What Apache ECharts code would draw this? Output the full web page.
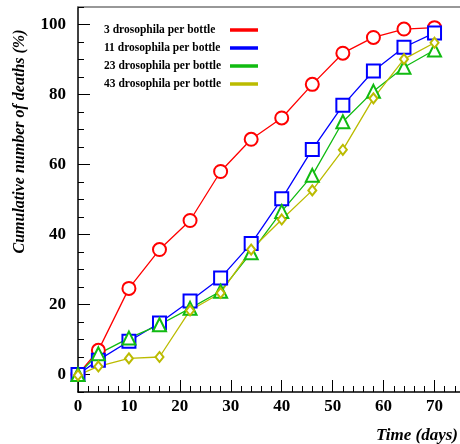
<!DOCTYPE html>
<html>
<head>
<meta charset="utf-8">
<script src="https://cdn.jsdelivr.net/npm/echarts@6/dist/echarts.min.js"></script>
<style>
  html, body { margin: 0; padding: 0; background: #fff; }
  #chart { width: 460px; height: 444px; }
</style>
</head>
<body>
<div id="chart"></div>
<script>
// 时间（天）
const days = [0, 4, 10, 16, 22, 28, 34, 40, 46, 52, 58, 64, 70]
// 每瓶果蝇数对应的累计死亡率（%）
const d3 = [0, 6.9, 24.6, 35.7, 44, 58, 67.2, 73.3, 82.9, 91.8, 96.3, 98.7, 99.1]
const d11 = [0, 4.1, 9.5, 14.7, 21, 27.6, 37.4, 50.2, 64.3, 76.9, 86.7, 93.5, 97.6]
const d23 = [0, 5.9, 10.4, 14.2, 18.9, 23.8, 34.8, 46.6, 56.9, 72.2, 80.9, 87.8, 92.7]
const d43 = [-0.2, 2.3, 4.6, 5.0, 18.3, 23.3, 35.7, 44.3, 52.6, 64.2, 78.9, 90.1, 94.8]
const names = ['3 drosophila per bottle', '11 drosophila per bottle', '23 drosophila per bottle', '43 drosophila per bottle']
const colors = ['#ff0000', '#0000ff', '#11bb11', '#bbbb00']
const xLabels = [0, 10, 20, 30, 40, 50, 60, 70]
const yLabels = [0, 20, 40, 60, 80, 100]

const serif = '"Liberation Serif", "DejaVu Serif", serif'
const pair = (arr) => days.map((d, i) => [d, arr[i]])

const myChart = echarts.init(document.getElementById('chart'))

function mkSeries(name, data, color, symbol, size) {
  return {
    name: name,
    type: 'line',
    data: pair(data),
    symbol: symbol,
    symbolSize: size,
    showAllSymbol: true,
    lineStyle: { color: color, width: 1.3 },
    itemStyle: { color: color, borderColor: color, borderWidth: 1.3 },
    emphasis: { disabled: true }
  }
}

const option = {
  animation: false,
  grid: { left: 78, top: 7, right: 0, bottom: 52, containLabel: false, outerBoundsMode: 'none' },
  title: {
    text: 'Time (days)',
    right: 2,
    bottom: 0,
    padding: 0,
    textStyle: { fontFamily: serif, fontSize: 17, fontWeight: 'bold', fontStyle: 'italic', color: '#000' }
  },
  legend: {
    orient: 'vertical',
    left: 99,
    top: 19,
    align: 'right',
    icon: 'rect',
    itemWidth: 26,
    itemHeight: 1.5,
    itemGap: 6,
    data: names.map((n, i) => ({ name: n, itemStyle: { color: colors[i] } })),
    formatter: (n) => '{t|' + n + '}',
    textStyle: {
      rich: {
        t: { width: 122, lineHeight: 12, align: 'left', fontFamily: serif, fontSize: 11.5, fontWeight: 'bold', color: '#000' }
      }
    }
  },
  xAxis: [
    {
      type: 'value', min: 0, max: 75,
      axisLine: { show: true, onZero: false, lineStyle: { color: '#000', width: 1.5 } },
      axisTick: { show: true, inside: true, length: 12, customValues: xLabels, lineStyle: { color: '#000', width: 1 } },
      axisLabel: { customValues: xLabels, margin: 6, fontFamily: serif, fontSize: 17, fontWeight: 'bold', color: '#000' },
      splitLine: { show: false }
    },
    {
      type: 'value', min: 0, max: 75, interval: 2, position: 'bottom', offset: 0,
      axisLine: { show: false, onZero: false },
      axisTick: { show: true, inside: true, length: 6, lineStyle: { color: '#000', width: 1 } },
      axisLabel: { show: false },
      splitLine: { show: false }
    },
    {
      type: 'value', min: 0, max: 75, position: 'top', offset: 0,
      axisLine: { show: true, onZero: false, lineStyle: { color: '#777', width: 1.5 } },
      axisTick: { show: false },
      axisLabel: { show: false },
      splitLine: { show: false }
    }
  ],
  yAxis: [
    {
      type: 'value', min: -5, max: 105,
      name: 'Cumulative number of deaths (%)',
      nameLocation: 'middle',
      nameGap: 50,
      nameTextStyle: { fontFamily: serif, fontSize: 16, fontWeight: 'bold', fontStyle: 'italic', color: '#000', padding: [0, 0, 0, 116] },
      axisLine: { show: true, onZero: false, lineStyle: { color: '#000', width: 1.5 } },
      axisTick: { show: true, inside: true, length: 12, customValues: yLabels, lineStyle: { color: '#000', width: 1 } },
      axisLabel: { customValues: yLabels, margin: 12, fontFamily: serif, fontSize: 17, fontWeight: 'bold', color: '#000' },
      splitLine: { show: false }
    },
    {
      type: 'value', min: -5, max: 105, interval: 5, position: 'left', offset: 0,
      axisLine: { show: false, onZero: false },
      axisTick: { show: true, inside: true, length: 6, lineStyle: { color: '#000', width: 1 } },
      axisLabel: { show: false },
      splitLine: { show: false }
    }
  ],
  series: [
    mkSeries(names[0], d3, colors[0], 'emptyCircle', 13),
    mkSeries(names[1], d11, colors[1], 'emptyRect', 13),
    mkSeries(names[2], d23, colors[2], 'emptyTriangle', 13),
    mkSeries(names[3], d43, colors[3], 'emptyDiamond', [8, 10])
  ]
}

myChart.setOption(option, true)
</script>
</body>
</html>
